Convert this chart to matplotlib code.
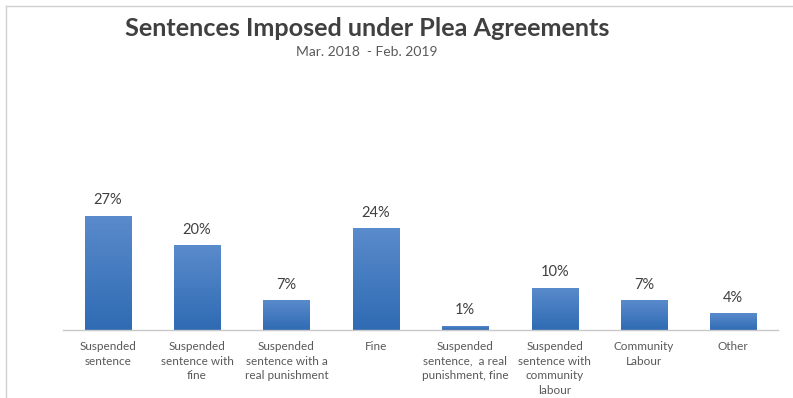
import numpy as np
import matplotlib.pyplot as plt
from matplotlib.colors import LinearSegmentedColormap

plt.rcParams['font.family'] = ['Lato', 'DejaVu Sans']

categories = [
    "Suspended\nsentence",
    "Suspended\nsentence with\nfine",
    "Suspended\nsentence with a\nreal punishment",
    "Fine",
    "Suspended\nsentence,  a real\npunishment, fine",
    "Suspended\nsentence with\ncommunity\nlabour",
    "Community\nLabour",
    "Other",
]
shares = [27, 20, 7, 24, 1, 10, 7, 4]

title = "Sentences Imposed under Plea Agreements"
subtitle = "Mar. 2018  - Feb. 2019"

W, H = 793, 398
fig = plt.figure(figsize=(W / 100, H / 100), dpi=100)

# thin grey frame on the top and left edges
fig.add_artist(plt.Line2D([6 / W, 6 / W], [0, 1 - 6 / H], color="#d0d0d0", lw=1))
fig.add_artist(plt.Line2D([6 / W, 1], [1 - 6 / H, 1 - 6 / H], color="#d0d0d0", lw=1))

ax = fig.add_axes([63 / W, 68 / H, 715 / W, 127 / H])
x = np.arange(len(categories))
bars = ax.bar(x, shares, width=0.515, color="none", zorder=2)

cmap = LinearSegmentedColormap.from_list("bar", ["#2f6bb3", "#5a8bcc"])
grad = np.linspace(0, 1, 256).reshape(-1, 1)
for b, v in zip(bars, shares):
    x0, w, h = b.get_x(), b.get_width(), b.get_height()
    im = ax.imshow(grad, cmap=cmap, origin="lower", aspect="auto",
                   extent=[x0, x0 + w, 0, h], zorder=2)
    im.set_clip_path(b)
    ax.annotate(f"{v}%", (b.get_x() + w / 2, h), xytext=(0, 6),
                textcoords="offset points", ha="center", va="bottom",
                fontsize=10.5, color="#404040", annotation_clip=False)

ax.set_xlim(-0.5, len(categories) - 0.5)
ax.set_ylim(0, 30)
for s in ["top", "right", "left"]:
    ax.spines[s].set_visible(False)
ax.spines["bottom"].set_color("#c8c8c8")
ax.spines["bottom"].set_linewidth(1)
ax.set_yticks([])
ax.set_xticks(x)
ax.set_xticklabels(categories, fontsize=8.5, color="#595959", linespacing=1.4)
ax.tick_params(axis="x", length=0, pad=8)

fig.text(367 / W, 1 - 28 / H, title, ha="center", va="center",
         fontsize=18.2, fontweight="bold", color="#404040")
fig.text(367 / W, 1 - 52 / H, subtitle, ha="center", va="center",
         fontsize=10, color="#595959")

fig.savefig("out.png", dpi=100)
